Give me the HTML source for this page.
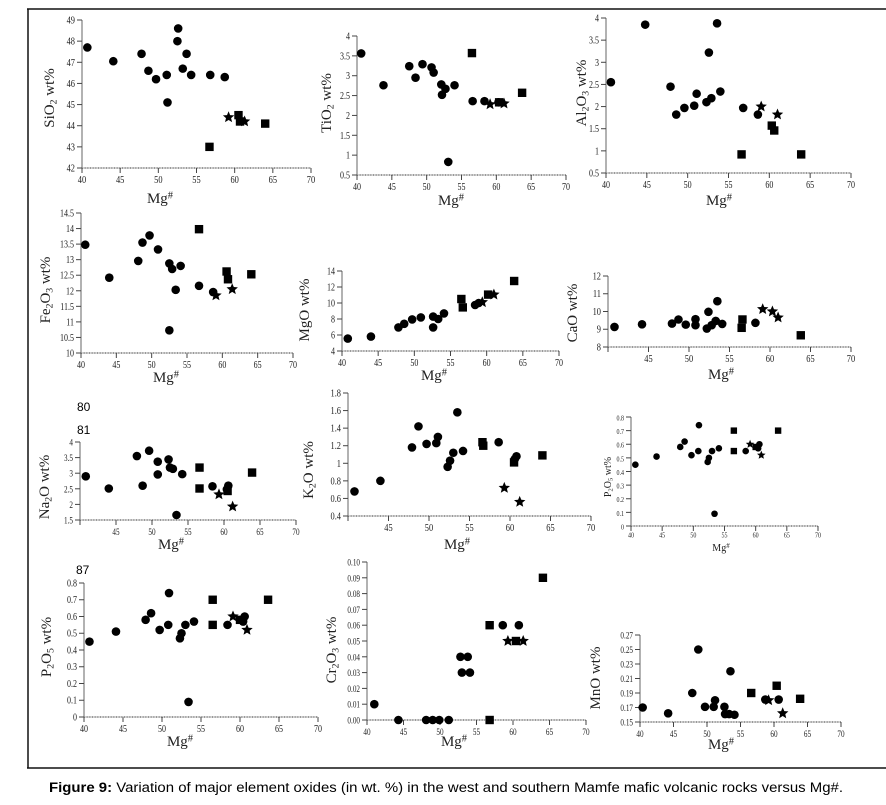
<!DOCTYPE html>
<html><head><meta charset="utf-8">
<style>
html,body{margin:0;padding:0;background:#fff;}
svg{display:block;}
</style></head>
<body>
<svg id="fig" width="886" height="805" viewBox="0 0 886 805" xmlns="http://www.w3.org/2000/svg">
<line x1="27" y1="9" x2="886" y2="9" stroke="#111" stroke-width="1.5"/>
<line x1="28" y1="9" x2="28" y2="768" stroke="#111" stroke-width="1.5"/>
<line x1="27" y1="768" x2="886" y2="768" stroke="#111" stroke-width="1.5"/>
<text x="77" y="411" font-family="Liberation Sans, sans-serif" font-size="12">80</text>
<text x="77" y="434" font-family="Liberation Sans, sans-serif" font-size="12">81</text>
<text x="76" y="574" font-family="Liberation Sans, sans-serif" font-size="12">87</text>
<text x="49" y="792" font-family="Liberation Sans, sans-serif" font-size="13.5" textLength="794" lengthAdjust="spacingAndGlyphs"><tspan font-weight="bold">Figure 9:</tspan> Variation of major element oxides (in wt. %) in the west and southern Mamfe mafic volcanic rocks versus Mg#.</text>
</svg>
<script>
// ---- data: [Mg#, oxide wt%] ----
const sio2Circles=[[40.7,47.7],[44.1,47.05],[47.8,47.4],[48.7,46.6],[49.7,46.2],[51.1,46.4],[51.2,45.1],[52.6,48.6],[52.5,48.0],[53.2,46.7],[53.7,47.4],[54.3,46.4],[56.8,46.4],[58.7,46.3]];
const sio2Squares=[[56.7,43.0],[60.5,44.5],[60.7,44.2],[64.0,44.1]];
const sio2Stars=[[59.2,44.4],[61.3,44.2]];

const tio2Circles=[[40.6,3.56],[43.8,2.76],[47.5,3.24],[48.4,2.95],[49.4,3.29],[50.7,3.21],[51.0,3.08],[52.1,2.78],[52.2,2.52],[52.7,2.67],[54.0,2.76],[53.1,0.83],[56.6,2.36],[58.3,2.36],[60.3,2.33]];
const tio2Squares=[[56.5,3.57],[60.4,2.33],[63.7,2.57]];
const tio2Stars=[[59.1,2.28],[61.1,2.30]];

const al2o3Circles=[[40.6,2.55],[44.8,3.85],[47.9,2.45],[48.6,1.82],[49.6,1.97],[50.8,2.02],[51.1,2.29],[52.3,2.10],[52.6,3.22],[52.9,2.19],[53.6,3.88],[54.0,2.34],[56.8,1.97],[58.6,1.82]];
const al2o3Squares=[[56.6,0.92],[60.3,1.57],[60.6,1.46],[63.9,0.92]];
const al2o3Stars=[[59.0,2.0],[61.0,1.82]];

const fe2o3Circles=[[40.6,13.48],[44.0,12.42],[48.1,12.96],[48.7,13.55],[49.7,13.78],[50.9,13.33],[52.5,12.88],[52.9,12.70],[54.1,12.80],[53.4,12.03],[52.5,10.73],[56.7,12.16],[58.7,11.96]];
const fe2o3Squares=[[56.7,13.98],[60.6,12.62],[60.8,12.37],[64.1,12.53]];
const fe2o3Stars=[[59.1,11.85],[61.4,12.05]];

const mgoCircles=[[40.8,5.55],[44.0,5.8],[47.8,6.95],[48.6,7.4],[49.7,7.95],[50.9,8.2],[52.6,6.95],[52.6,8.3],[53.3,8.0],[54.1,8.7],[58.4,9.75],[58.9,10.0]];
const mgoSquares=[[56.5,10.5],[56.7,9.45],[60.2,11.05],[63.8,12.75]];
const mgoStars=[[59.4,10.1],[61.0,11.05]];

const caoCircles=[[40.8,9.13],[44.2,9.28],[47.9,9.32],[48.7,9.55],[49.6,9.26],[50.8,9.57],[50.8,9.23],[52.2,9.04],[52.4,9.98],[52.8,9.23],[53.5,10.58],[53.3,9.47],[54.1,9.3],[58.2,9.36]];
const caoSquares=[[56.5,9.08],[56.6,9.55],[63.8,8.66]];
const caoStars=[[59.1,10.13],[60.3,10.0],[61.0,9.66]];

const na2oCircles=[[40.8,2.90],[44.0,2.51],[47.9,3.55],[48.7,2.6],[49.6,3.72],[50.8,3.37],[50.8,2.96],[52.3,3.44],[52.5,3.18],[52.9,3.14],[54.2,2.97],[53.4,1.66],[58.4,2.58],[60.4,2.48],[60.6,2.6]];
const na2oSquares=[[56.6,3.18],[56.6,2.51],[60.5,2.43],[63.9,3.02]];
const na2oStars=[[59.3,2.32],[61.2,1.93]];

const k2oCircles=[[40.8,0.68],[44.0,0.80],[47.9,1.18],[48.7,1.42],[49.7,1.22],[50.9,1.23],[51.1,1.30],[52.3,0.96],[52.6,1.03],[53.0,1.12],[53.5,1.58],[54.2,1.14],[58.6,1.24],[60.6,1.05],[60.8,1.08]];
const k2oSquares=[[56.6,1.24],[56.7,1.20],[60.5,1.01],[64.0,1.09]];
const k2oStars=[[59.3,0.72],[61.2,0.56]];

const p2o5Circles=[[40.7,0.45],[44.1,0.51],[47.9,0.58],[48.6,0.62],[49.7,0.52],[50.8,0.55],[50.9,0.74],[52.3,0.47],[52.5,0.50],[53.0,0.55],[54.1,0.57],[53.4,0.09],[58.4,0.55],[60.4,0.57],[60.6,0.60]];
const p2o5Squares=[[56.5,0.70],[56.5,0.55],[60.0,0.58],[63.6,0.70]];
const p2o5Stars=[[59.1,0.60],[60.9,0.52]];

const cr2o3Circles=[[41.0,0.01],[44.3,0],[48.1,0],[49.0,0],[49.9,0],[51.2,0],[52.8,0.04],[53.8,0.04],[53.0,0.03],[54.1,0.03],[58.6,0.06],[60.8,0.06]];
const cr2o3Squares=[[56.8,0.06],[56.8,0],[60.4,0.05],[64.1,0.09]];
const cr2o3Stars=[[59.3,0.05],[61.4,0.05]];

const mnoCircles=[[40.4,0.17],[44.2,0.162],[47.8,0.19],[48.7,0.25],[49.7,0.171],[51.0,0.171],[51.2,0.18],[52.6,0.171],[52.7,0.161],[53.3,0.161],[53.5,0.22],[54.1,0.16],[58.7,0.181],[60.7,0.181]];
const mnoSquares=[[56.6,0.19],[60.4,0.20],[63.9,0.182]];
const mnoStars=[[59.2,0.18],[61.3,0.162]];

const xTicks=[40,45,50,55,60,65,70];

// ---- layout ----
const panels=[
 {id:'sio2',t:['SiO','2',' wt%'],x0:82,x1:311,yA:168,yB:20,min:42,max:49,step:1,dec:0,tx:54,ty:98,mx:160,my:203,fs:10.5,c:sio2Circles,s:sio2Squares,st:sio2Stars,skip40:false},
 {id:'tio2',t:['TiO','2',' wt%'],x0:357,x1:566,yA:175,yB:36,min:0.5,max:4,step:0.5,dec:1,tx:331,ty:103,mx:451,my:205,fs:10,c:tio2Circles,s:tio2Squares,st:tio2Stars,skip40:false},
 {id:'al2o3',t:['Al','2','O','3',' wt%'],x0:606,x1:851,yA:173,yB:18,min:0.5,max:4,step:0.5,dec:1,tx:586,ty:93,mx:719,my:205,fs:10,c:al2o3Circles,s:al2o3Squares,st:al2o3Stars,skip40:false},
 {id:'fe2o3',t:['Fe','2','O','3',' wt%'],x0:81,x1:293,yA:353,yB:213,min:10,max:14.5,step:0.5,dec:1,tx:50,ty:290,mx:166,my:382,fs:10,c:fe2o3Circles,s:fe2o3Squares,st:fe2o3Stars,skip40:false},
 {id:'mgo',t:['MgO wt%'],x0:342,x1:559,yA:351,yB:271,min:4,max:14,step:2,dec:0,tx:309,ty:310,mx:434,my:380,fs:10,c:mgoCircles,s:mgoSquares,st:mgoStars,skip40:false},
 {id:'cao',t:['CaO wt%'],x0:608,x1:851,yA:347,yB:276,min:8,max:12,step:1,dec:0,tx:577,ty:313,mx:721,my:379,fs:10.5,c:caoCircles,s:caoSquares,st:caoStars,skip40:true},
 {id:'na2o',t:['Na','2','O wt%'],x0:80,x1:296,yA:520,yB:442,min:1.5,max:4,step:0.5,dec:1,tx:49,ty:487,mx:171,my:549,fs:9,c:na2oCircles,s:na2oSquares,st:na2oStars,skip40:true},
 {id:'k2o',t:['K','2','O wt%'],x0:348,x1:591,yA:516,yB:393,min:0.4,max:1.8,step:0.2,dec:1,tx:313,ty:470,mx:457,my:549,fs:10.5,c:k2oCircles,s:k2oSquares,st:k2oStars,skip40:true},
 {id:'p2o5-small',t:['P','2','O','5',' wt%'],x0:631,x1:818,yA:526,yB:417,min:0,max:0.8,step:0.1,dec:1,tx:611,ty:477,mx:721,my:551,fs:7.5,c:p2o5Circles,s:p2o5Squares,st:p2o5Stars,skip40:false,small:true},
 {id:'p2o5',t:['P','2','O','5',' wt%'],x0:84,x1:318,yA:717,yB:583,min:0,max:0.8,step:0.1,dec:1,tx:51,ty:647,mx:180,my:746,fs:10,c:p2o5Circles,s:p2o5Squares,st:p2o5Stars,skip40:false},
 {id:'cr2o3',t:['Cr','2','O','3',' wt%'],x0:367,x1:586,yA:720,yB:562,min:0,max:0.1,step:0.01,dec:2,tx:336,ty:650,mx:454,my:746,fs:9,c:cr2o3Circles,s:cr2o3Squares,st:cr2o3Stars,skip40:false},
 {id:'mno',t:['MnO wt%'],x0:640,x1:841,yA:722,yB:635,min:0.15,max:0.27,step:0.02,dec:2,tx:600,ty:678,mx:721,my:749,fs:9,c:mnoCircles,s:mnoSquares,st:mnoStars,skip40:false}
];

const NS='http://www.w3.org/2000/svg';
const svg=document.getElementById('fig');
function mk(tag,attrs,parent){const e=document.createElementNS(NS,tag);for(const k in attrs)e.setAttribute(k,attrs[k]);(parent||svg).appendChild(e);return e;}
function starPts(cx,cy,R){const r=R*0.45;let p=[];for(let i=0;i<10;i++){const a=-Math.PI/2+i*Math.PI/5;const rr=i%2?r:R;p.push((cx+rr*Math.cos(a)).toFixed(1)+','+(cy+rr*Math.sin(a)).toFixed(1));}return p.join(' ');}
function fmt(v,d){let s=v.toFixed(d);if(d>0&&d<2){s=s.replace(/\.0$/,'');}return s;}

panels.forEach(p=>{
 const g=mk('g',{});
 
 
 const sx=m=>p.x0+(m-40)/30*(p.x1-p.x0);
 const sy=v=>p.yA-(v-p.min)/(p.max-p.min)*(p.yA-p.yB);
 const sc=p.small?0.78:1;
 const tf='Liberation Serif, DejaVu Serif, serif';
 const ya=mk('line',{x1:p.x0,y1:p.yB,x2:p.x0,y2:p.yA,stroke:'#888','stroke-width':1.3},g);
 
 
 const xa=mk('line',{x1:p.x0,y1:p.yA,x2:p.x1,y2:p.yA,stroke:'#999','stroke-width':2,'stroke-dasharray':'1 0.6'},g);
 
 
 const n=Math.round((p.max-p.min)/p.step);
 for(let i=0;i<=n;i++){
  const v=p.min+i*p.step;const y=sy(v);
  mk('line',{x1:p.x0-5,y1:y,x2:p.x0,y2:y,stroke:'#444','stroke-width':1},g);
  const t=mk('text',{x:p.x0-7,y:y+3.5,'text-anchor':'end','font-family':tf,'font-size':p.fs,fill:'#222',transform:'translate('+(p.x0-7)+','+(y+3.5)+') scale(0.8,1) translate('+(-(p.x0-7))+','+(-(y+3.5))+')'},g);
  t.textContent=fmt(v,p.dec);
  
  
 }
 xTicks.forEach(m=>{
  const x=sx(m);
  mk('line',{x1:x,y1:p.yA,x2:x,y2:p.yA+5,stroke:'#444','stroke-width':1},g);
  if(p.skip40&&m===40)return;
  const t=mk('text',{x:x,y:p.yA+15*sc,'text-anchor':'middle','font-family':tf,'font-size':p.fs,fill:'#222',transform:'translate('+x+',0) scale(0.8,1) translate('+(-x)+',0)'},g);
  t.textContent=m;
  
  
 });
 const fsT=p.small?10:15;
 const yt=mk('text',{x:p.tx,y:p.ty,'text-anchor':'middle','font-family':tf,'font-size':fsT,fill:'#222',transform:'rotate(-90 '+p.tx+' '+p.ty+')'},g);
 
 
 p.t.forEach((part,i)=>{
  const ts=mk('tspan',{},yt);
  const sub=/^\d$/.test(part);
  if(sub){ts.setAttribute('font-size',fsT*0.65);ts.setAttribute('dy',fsT*0.15);}
  else if(i>0&&/^\d$/.test(p.t[i-1])){ts.setAttribute('dy',-fsT*0.15);}
  ts.textContent=part;
 });
 const mt=mk('text',{x:p.mx,y:p.my,'text-anchor':'middle','font-family':tf,'font-size':fsT,fill:'#222'},g);
 
 
 const m1=mk('tspan',{},mt);m1.textContent='Mg';
 const m2=mk('tspan',{'font-size':fsT*0.7,dy:-fsT*0.3},mt);m2.textContent='#';
 const r=p.small?3.3:4.3;
 p.c.forEach(d=>{
  const c=mk('circle',{cx:sx(d[0]),cy:sy(d[1]),r:r,fill:'#000'},g);
  
  
 });
 p.s.forEach(d=>{
  const h=p.small?3.2:4.2;
  const q=mk('rect',{x:sx(d[0])-h,y:sy(d[1])-h,width:2*h,height:2*h,fill:'#000'},g);
  
  
 });
 p.st.forEach(d=>{
  const s=mk('polygon',{points:starPts(sx(d[0]),sy(d[1]),p.small?4.5:6),fill:'#000'},g);
  
  
 });
});
</script>
</body></html>
